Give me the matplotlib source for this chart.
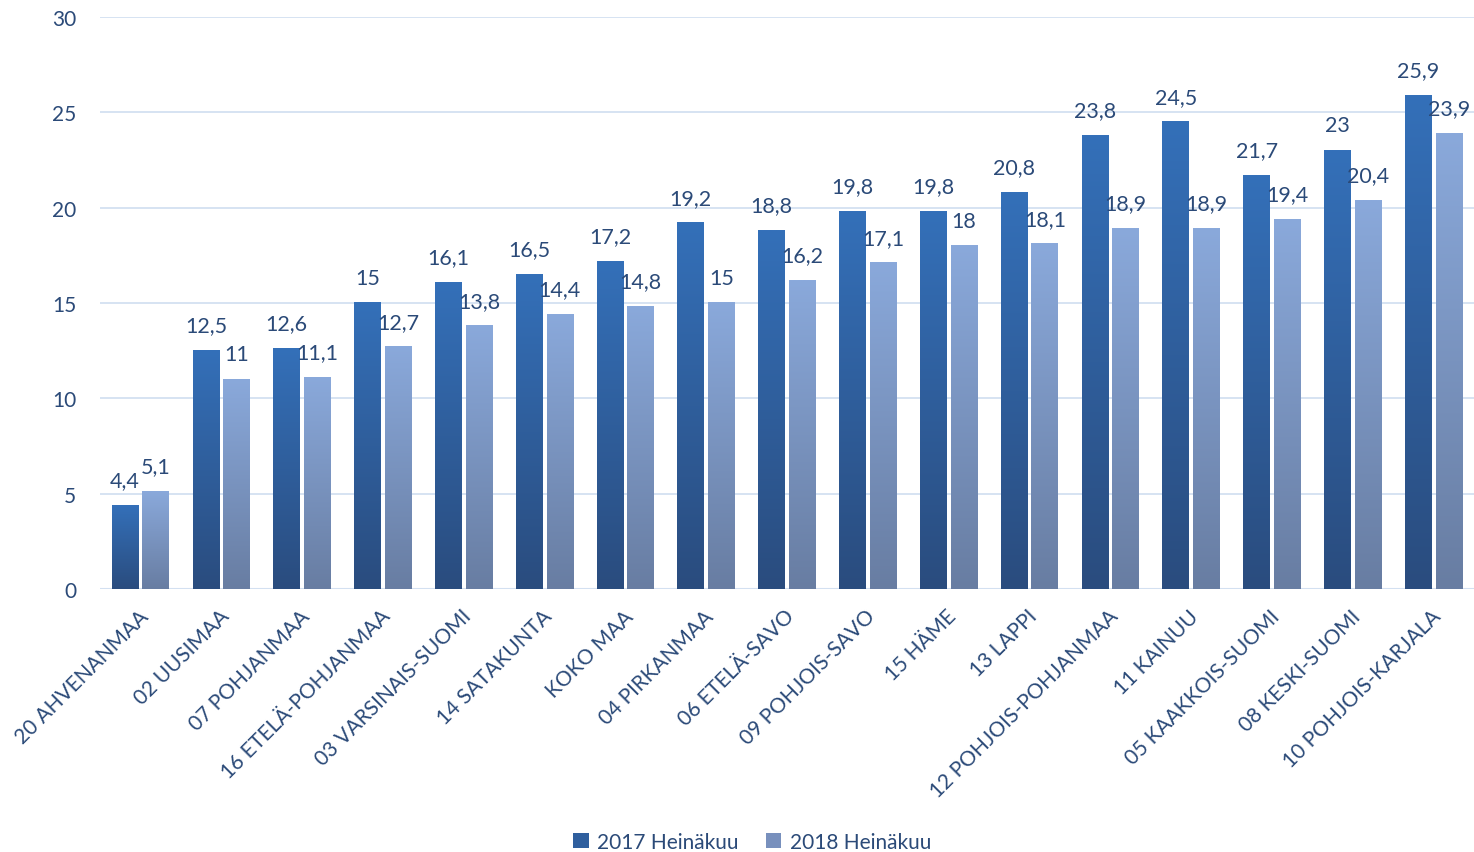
import numpy as np
import matplotlib
matplotlib.use("Agg")
import matplotlib.pyplot as plt
from matplotlib.colors import LinearSegmentedColormap
from matplotlib.patches import Patch

plt.rcParams['font.family'] = ['Lato', 'DejaVu Sans']

# data
regions = ["20 AHVENANMAA", "02 UUSIMAA", "07 POHJANMAA", "16 ETELÄ-POHJANMAA",
           "03 VARSINAIS-SUOMI", "14 SATAKUNTA", "KOKO MAA", "04 PIRKANMAA",
           "06 ETELÄ-SAVO", "09 POHJOIS-SAVO", "15 HÄME", "13 LAPPI",
           "12 POHJOIS-POHJANMAA", "11 KAINUU", "05 KAAKKOIS-SUOMI",
           "08 KESKI-SUOMI", "10 POHJOIS-KARJALA"]
vals_2017 = [4.4, 12.5, 12.6, 15, 16.1, 16.5, 17.2, 19.2, 18.8, 19.8, 19.8,
             20.8, 23.8, 24.5, 21.7, 23, 25.9]
vals_2018 = [5.1, 11, 11.1, 12.7, 13.8, 14.4, 14.8, 15, 16.2, 17.1, 18,
             18.1, 18.9, 18.9, 19.4, 20.4, 23.9]
series_names = ["2017 Heinäkuu", "2018 Heinäkuu"]

text_col = "#2b4a78"
cmap_dark = LinearSegmentedColormap.from_list("d", ["#2a4c7e", "#3470b9"])
cmap_light = LinearSegmentedColormap.from_list("l", ["#687da2", "#8aa9db"])

fig = plt.figure(figsize=(14.74, 8.53), dpi=100)
ax = fig.add_axes([100 / 1474, 1 - 590 / 853, 1 - 100 / 1474, (590 - 18) / 853])

x = np.arange(len(regions))
width = 0.33
offset = 0.19
grad = np.linspace(0, 1, 256).reshape(-1, 1)


def fmt(v):
    s = ("%.1f" % v).replace(".", ",")
    return s[:-2] if s.endswith(",0") else s


for vals, dx, cmap in [(vals_2017, -offset, cmap_dark), (vals_2018, offset, cmap_light)]:
    for xi, v in zip(x, vals):
        x0 = xi + dx - width / 2
        ax.imshow(grad, extent=[x0, x0 + width, 0, v], origin="lower",
                  aspect="auto", cmap=cmap, zorder=3)
        ax.text(xi + dx, v + 0.8, fmt(v), ha="center", va="bottom",
                fontsize=15.5, color=text_col, zorder=4)

ax.set_xlim(-0.5, len(regions) - 0.5)
ax.set_ylim(0, 30)
ax.set_yticks(np.arange(0, 31, 5))
ax.yaxis.grid(True, color="#d3e0f1", linewidth=1.3, zorder=0)
ax.set_axisbelow(True)
for s in ax.spines.values():
    s.set_visible(False)
ax.axhline(0, color="#d3e0f1", linewidth=1.5, zorder=2)
ax.tick_params(axis="both", length=0, labelsize=15, labelcolor=text_col)
ax.tick_params(axis="y", pad=17)
ax.set_xticks(x - 0.03)
ax.set_xticklabels(regions, rotation=45, ha="right", rotation_mode="anchor")
ax.tick_params(axis="x", pad=12)

handles = [Patch(facecolor="#2f5f9e", label=series_names[0]),
           Patch(facecolor="#7890bd", label=series_names[1])]
fig.legend(handles=handles, loc="center", bbox_to_anchor=(752 / 1474, 1 - 843 / 853),
           ncol=2, frameon=False, fontsize=15, handlelength=0.75,
           handleheight=0.75, handletextpad=0.4, columnspacing=1.3,
           labelcolor=text_col)

fig.savefig("out.png", dpi=100)
